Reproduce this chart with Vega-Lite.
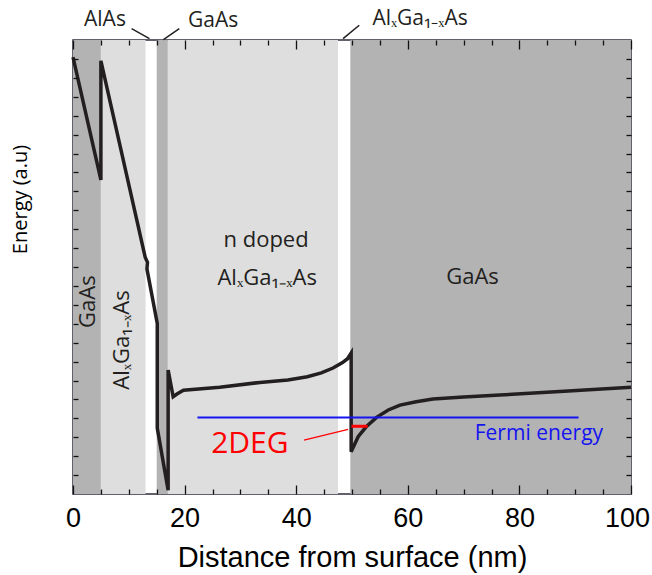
{
  "$schema": "https://vega.github.io/schema/vega-lite/v6.json",
  "width": 558,
  "height": 454,
  "autosize": "none",
  "padding": {"left": 73, "top": 40, "right": 21, "bottom": 81},
  "background": "white",
  "config": {
    "view": {"stroke": "#2e2e3e", "strokeWidth": 1.5},
    "axis": {"domain": false, "grid": false, "ticks": true, "tickColor": "#111111", "tickWidth": 1.3, "tickOpacity": 1, "labelColor": "#000000", "titleColor": "#000000", "titleFontWeight": "normal"}
  },
  "datasets": {
    "regions": [
      {"x0": 0, "x1": 5, "material": "GaAs"},
      {"x0": 5, "x1": 13, "material": "AlGaAs"},
      {"x0": 15, "x1": 17, "material": "GaAs"},
      {"x0": 17, "x1": 47.5, "material": "AlGaAs"},
      {"x0": 49.7, "x1": 100, "material": "GaAs"}
    ],
    "band": [
      {"i": 0, "x": 0, "y": 23.1},
      {"i": 1, "x": 5.0, "y": 16.6},
      {"i": 2, "x": 5.0, "y": 22.9},
      {"i": 3, "x": 12.95, "y": 12.5},
      {"i": 4, "x": 13.35, "y": 12.25},
      {"i": 5, "x": 13.25, "y": 11.9},
      {"i": 6, "x": 15.1, "y": 9.02},
      {"i": 7, "x": 15.1, "y": 3.49},
      {"i": 8, "x": 17.05, "y": 0.2},
      {"i": 9, "x": 17.05, "y": 6.55},
      {"i": 10, "x": 17.95, "y": 5.14},
      {"i": 11, "x": 18.7, "y": 5.3},
      {"i": 12, "x": 19.8, "y": 5.49},
      {"i": 13, "x": 26.3, "y": 5.64},
      {"i": 14, "x": 33.5, "y": 5.9},
      {"i": 15, "x": 38.5, "y": 6.03},
      {"i": 16, "x": 42.0, "y": 6.2},
      {"i": 17, "x": 44.5, "y": 6.4},
      {"i": 18, "x": 46.6, "y": 6.66},
      {"i": 19, "x": 48.3, "y": 6.95},
      {"i": 20, "x": 49.2, "y": 7.15},
      {"i": 21, "x": 49.85, "y": 7.45},
      {"i": 22, "x": 49.85, "y": 2.23},
      {"i": 23, "x": 51.1, "y": 3.03},
      {"i": 24, "x": 52.5, "y": 3.54},
      {"i": 25, "x": 54.4, "y": 4.05},
      {"i": 26, "x": 56.5, "y": 4.44},
      {"i": 27, "x": 58.6, "y": 4.7},
      {"i": 28, "x": 61.5, "y": 4.88},
      {"i": 29, "x": 64.5, "y": 5.02},
      {"i": 30, "x": 70, "y": 5.13},
      {"i": 31, "x": 76.5, "y": 5.23},
      {"i": 32, "x": 88, "y": 5.43},
      {"i": 33, "x": 100, "y": 5.64}
    ]
  },
  "resolve": {"axis": {"x": "independent", "y": "independent"}},
  "layer": [
    {
      "data": {"name": "regions"},
      "mark": {"type": "rect"},
      "encoding": {
        "x": {"field": "x0", "type": "quantitative", "scale": {"domain": [0, 100], "nice": false, "zero": false},
          "axis": {"orient": "bottom", "zindex": 2, "values": [0,20,40,60,80,100],
            "offset": -9, "tickSize": 9,
            "labelFlush": false, "labelOverlap": false, "labelBound": false,
            "labelOffset": {"condition": {"test": "datum.value === 100", "value": -4}, "value": 0},
            "labelFont": "Liberation Sans", "labelFontSize": 27, "labelPadding": 11,
            "title": "Distance from surface (nm)", "titleFont": "Liberation Sans", "titleFontSize": 29,
            "titleY": 72, "titleBaseline": "middle"}},
        "x2": {"field": "x1"},
        "color": {"field": "material", "type": "nominal", "scale": {"domain": ["GaAs", "AlGaAs"], "range": ["#b3b3b3", "#dedede"]}, "legend": null}
      }
    },
    {
      "data": {"name": "band"},
      "mark": {"type": "line", "color": "#231f20", "strokeWidth": 3.5},
      "encoding": {
        "x": {"field": "x", "type": "quantitative", "scale": {"domain": [0, 100], "nice": false, "zero": false},
          "axis": {"orient": "top", "zindex": 2, "values": [0,20,40,60,80,100],
            "offset": -9, "tickSize": 9, "labels": false, "title": null}},
        "y": {"field": "y", "type": "quantitative", "scale": {"domain": [0, 24], "nice": false, "zero": false},
          "axis": {"orient": "left", "zindex": 2, "values": [1,2,3,4,5,6,7,8,9,10,11,12,13,14,15,16,17,18,19,20,21,22,23],
            "tickSize": -5, "labels": false,
            "title": "Energy (a.u)", "titleFont": "Open Sans", "titleFontSize": 20,
            "titleX": -53, "titleY": 159, "titleAngle": 270, "titleAlign": "center", "titleBaseline": "middle"}},
        "order": {"field": "i", "type": "quantitative"}
      }
    },
    {
      "data": {"values": [{"x0": 22.3, "x1": 90.6, "e": 4.05}]},
      "mark": {"type": "rule", "color": "#1414f0", "strokeWidth": 2},
      "encoding": {
        "x": {"field": "x0", "type": "quantitative",
          "axis": {"orient": "bottom", "zindex": 2, "values": [5,10,15,25,30,35,45,50,55,65,70,75,85,90,95],
            "offset": -5, "tickSize": 5, "labels": false, "title": null}},
        "x2": {"field": "x1"},
        "y": {"field": "e", "type": "quantitative",
          "axis": {"orient": "right", "zindex": 2, "values": [1,2,3,4,5,6,7,8,9,10,11,12,13,14,15,16,17,18,19,20,21,22,23],
            "tickSize": -5, "labels": false, "title": null}}
      }
    },
    {
      "data": {"values": [{"x0": 49.9, "x1": 52.8, "e": 3.58}]},
      "mark": {"type": "rule", "color": "#ff0000", "strokeWidth": 3},
      "encoding": {
        "x": {"field": "x0", "type": "quantitative",
          "axis": {"orient": "top", "zindex": 2, "values": [5,10,15,25,30,35,45,50,55,65,70,75,85,90,95],
            "offset": -5, "tickSize": 5, "labels": false, "title": null}},
        "x2": {"field": "x1"},
        "y": {"field": "e", "type": "quantitative", "axis": null}
      }
    },
    {
      "data": {"values": [{"x0": 41.4, "y0": 2.85, "x1": 49.3, "y1": 3.42}]},
      "mark": {"type": "rule", "color": "#ff0000", "strokeWidth": 1.2},
      "encoding": {
        "x": {"field": "x0", "type": "quantitative", "axis": null},
        "x2": {"field": "x1"},
        "y": {"field": "y0", "type": "quantitative", "axis": null},
        "y2": {"field": "y1"}
      }
    },
    {
      "data": {"values": [
        {"x0": 10.5, "y0": 24.6, "x1": 13.7, "y1": 24.07},
        {"x0": 19.05, "y0": 24.6, "x1": 16.2, "y1": 24.02},
        {"x0": 51.3, "y0": 24.78, "x1": 48.4, "y1": 24.07}
      ]},
      "mark": {"type": "rule", "color": "#231f20", "strokeWidth": 1.5},
      "encoding": {
        "x": {"field": "x0", "type": "quantitative", "axis": null},
        "x2": {"field": "x1"},
        "y": {"field": "y0", "type": "quantitative", "axis": null},
        "y2": {"field": "y1"}
      }
    },
    {
      "data": {"values": [
        {"label": "AlAs", "x": 5.73, "y": 25.04},
        {"label": "GaAs", "x": 25.1, "y": 25.0},
        {"label": "AlₓGa₁₋ₓAs", "x": 62.2, "y": 25.1}
      ]},
      "mark": {"type": "text", "font": "Open Sans", "fontSize": 21, "color": "#231f20", "align": "center", "baseline": "middle"},
      "encoding": {
        "x": {"field": "x", "type": "quantitative", "axis": null},
        "y": {"field": "y", "type": "quantitative", "axis": null},
        "text": {"field": "label"}
      }
    },
    {
      "data": {"values": [
        {"label": "n doped", "x": 34.6, "y": 13.42},
        {"label": "AlₓGa₁₋ₓAs", "x": 34.8, "y": 11.44},
        {"label": "GaAs", "x": 71.6, "y": 11.46}
      ]},
      "mark": {"type": "text", "font": "Open Sans", "fontSize": 22, "color": "#231f20", "align": "center", "baseline": "middle"},
      "encoding": {
        "x": {"field": "x", "type": "quantitative", "axis": null},
        "y": {"field": "y", "type": "quantitative", "axis": null},
        "text": {"field": "label"}
      }
    },
    {
      "data": {"values": [
        {"label": "GaAs", "x": 2.6, "y": 10.17},
        {"label": "AlₓGa₁₋ₓAs", "x": 8.8, "y": 8.14}
      ]},
      "mark": {"type": "text", "font": "Open Sans", "fontSize": 22, "color": "#231f20", "align": "center", "baseline": "middle", "angle": 270},
      "encoding": {
        "x": {"field": "x", "type": "quantitative", "axis": null},
        "y": {"field": "y", "type": "quantitative", "axis": null},
        "text": {"field": "label"}
      }
    },
    {
      "data": {"values": [{"label": "2DEG", "x": 31.7, "y": 2.64}]},
      "mark": {"type": "text", "font": "Open Sans", "fontSize": 30, "color": "#ff0000", "align": "center", "baseline": "middle"},
      "encoding": {
        "x": {"field": "x", "type": "quantitative", "axis": null},
        "y": {"field": "y", "type": "quantitative", "axis": null},
        "text": {"field": "label"}
      }
    },
    {
      "data": {"values": [{"label": "Fermi energy", "x": 83.5, "y": 3.17}]},
      "mark": {"type": "text", "font": "Open Sans", "fontSize": 21, "color": "#1414f0", "align": "center", "baseline": "middle"},
      "encoding": {
        "x": {"field": "x", "type": "quantitative", "axis": null},
        "y": {"field": "y", "type": "quantitative", "axis": null},
        "text": {"field": "label"}
      }
    }
  ]
}
